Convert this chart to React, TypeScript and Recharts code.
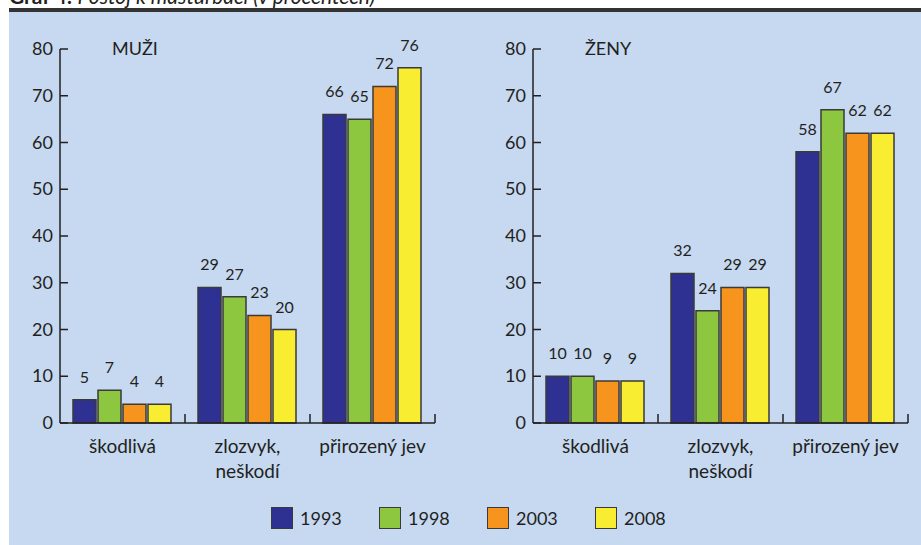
import { Bar, BarChart, LabelList, XAxis, YAxis } from "recharts";

const categories = ["škodlivá", "zlozvyk,\nneškodí", "přirozený jev"];
const years = ["1993", "1998", "2003", "2008"];
const yTicks = [0, 10, 20, 30, 40, 50, 60, 70, 80];

const men1993 = [5, 29, 66];
const men1998 = [7, 27, 65];
const men2003 = [4, 23, 72];
const men2008 = [4, 20, 76];

const women1993 = [10, 32, 58];
const women1998 = [10, 24, 67];
const women2003 = [9, 29, 62];
const women2008 = [9, 29, 62];

const COLORS = ["#2e3192", "#8dc63f", "#f7941d", "#f9ed32"];
const BG = "#c6d9f1";
const INK = "#231f20";
const FONT = "Lato, 'Open Sans', sans-serif";

const CHART_W = 460;
const CHART_H = 500;
const Y_AXIS_W = 60;
const PLOT_RIGHT = 25;
const BAND = (CHART_W - Y_AXIS_W - PLOT_RIGHT) / categories.length;

function buildRows(series: number[][]) {
  return categories.map((label, i) => {
    const row: Record<string, string | number> = { label };
    years.forEach((year, j) => {
      row[year] = series[j][i];
    });
    return row;
  });
}

function ValueTick(props: any) {
  const { x, y, payload } = props;
  return (
    <g>
      <line x1={x} x2={x + 8} y1={y} y2={y} stroke={INK} strokeWidth={1.5} />
      <text x={x - 7} y={y + 6} textAnchor="end" fontSize={18} fill={INK} fontFamily={FONT}>
        {payload.value}
      </text>
    </g>
  );
}

function CategoryTick(props: any) {
  const { x, y, payload } = props;
  const lines = String(payload.value).split("\n");
  return (
    <g>
      <line x1={x + BAND / 2} x2={x + BAND / 2} y1={y} y2={y - 9} stroke={INK} strokeWidth={1.5} />
      <text x={x} y={y + 30} textAnchor="middle" fontSize={19} fill={INK} fontFamily={FONT}>
        {lines.map((line, i) => (
          <tspan key={line} x={x} dy={i === 0 ? 0 : 25}>
            {line}
          </tspan>
        ))}
      </text>
    </g>
  );
}

function Panel({ series, title, left }: { series: number[][]; title: string; left: number }) {
  const rows = buildRows(series);
  return (
    <div style={{ position: "absolute", left, top: 0 }}>
      <BarChart
        width={CHART_W}
        height={CHART_H}
        data={rows}
        margin={{ top: 49, right: PLOT_RIGHT, bottom: 17, left: 0 }}
        barCategoryGap={13}
        barGap={2}
      >
        <XAxis
          dataKey="label"
          height={60}
          interval={0}
          tickSize={0}
          tickMargin={0}
          tickLine={false}
          axisLine={{ stroke: INK, strokeWidth: 1.5 }}
          tick={<CategoryTick />}
        />
        <YAxis
          width={Y_AXIS_W}
          domain={[0, 80]}
          ticks={yTicks}
          interval={0}
          tickSize={0}
          tickMargin={0}
          tickLine={false}
          axisLine={{ stroke: INK, strokeWidth: 1.5 }}
          tick={<ValueTick />}
        />
        {years.map((year, i) => (
          <Bar
            key={year}
            dataKey={year}
            fill={COLORS[i]}
            stroke="#3a3a3a"
            strokeWidth={1.5}
            isAnimationActive={false}
          >
            <LabelList
              dataKey={year}
              position="top"
              offset={17}
              fontSize={16}
              fill={INK}
              fontFamily={FONT}
            />
          </Bar>
        ))}
      </BarChart>
      <div
        style={{
          position: "absolute",
          left: 112,
          top: 37,
          fontSize: 18,
          color: INK,
          fontFamily: FONT,
          lineHeight: "22px",
        }}
      >
        {title}
      </div>
    </div>
  );
}

export default function App() {
  return (
    <div
      style={{
        position: "absolute",
        left: 0,
        top: 0,
        width: 921,
        height: 545,
        overflow: "hidden",
        background: "#fff",
        fontFamily: FONT,
      }}
    >
      {/* chart caption, cropped at the top edge as in the source */}
      <div
        style={{
          position: "absolute",
          left: 9,
          top: -15,
          fontSize: 21,
          lineHeight: "22px",
          color: INK,
          whiteSpace: "nowrap",
        }}
      >
        <b>Graf 4:</b> <i>Postoj k masturbaci (v procentech)</i>
      </div>
      <div style={{ position: "absolute", left: 9, top: 8, width: 912, height: 4, background: "#333" }} />
      <div style={{ position: "absolute", left: 9, top: 12, width: 912, height: 533, background: BG }} />

      <Panel series={[men1993, men1998, men2003, men2008]} title="MUŽI" left={0} />
      <Panel series={[women1993, women1998, women2003, women2008]} title="ŽENY" left={473} />

      <div style={{ position: "absolute", left: 271, top: 507, display: "flex" }}>
        {years.map((year, i) => (
          <div key={year} style={{ width: 108, display: "flex", alignItems: "center" }}>
            <span
              style={{
                width: 20,
                height: 20,
                background: COLORS[i],
                border: "1.5px solid #3a3a3a",
                display: "inline-block",
              }}
            />
            <span style={{ marginLeft: 7, fontSize: 18, color: INK, lineHeight: "22px" }}>{year}</span>
          </div>
        ))}
      </div>
    </div>
  );
}
